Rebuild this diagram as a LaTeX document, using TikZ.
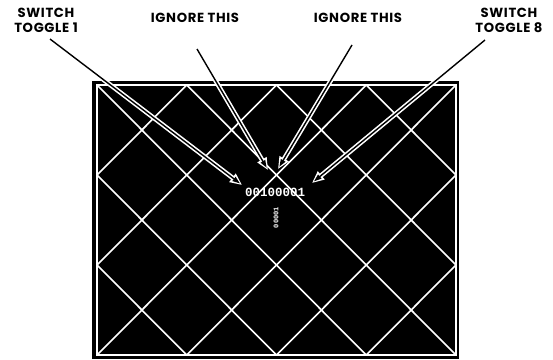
\documentclass[tikz,border=0pt]{standalone}
\usepackage{fontspec}
\setmainfont{Liberation Sans}
\newfontfamily\labfont{Poppins}[LetterSpace=5]
\newfontfamily\digfont{Liberation Mono}
\usetikzlibrary{arrows.meta}
\tikzset{
  lab/.style={font=\labfont\bfseries\fontsize{13.2}{15}\selectfont, align=center, inner sep=0pt, text=black},
  grid line/.style={white, line width=1.6pt},
  frame line/.style={white, line width=1.5pt},
  leadw/.style={white, line width=4.6pt, -{Triangle[length=12pt,width=10pt]}},
  leadb/.style={black, line width=1.4pt, -{Triangle[length=7.5pt,width=5pt]}, shorten >=2.6pt},
  digits/.style={font=\digfont\bfseries\fontsize{12.5}{13}\selectfont, text=white, inner sep=0pt}
}
\begin{document}
\begin{tikzpicture}[x=1pt,y=-1pt]
\useasboundingbox (0,0) rectangle (553,359);
\fill[white] (0,0) rectangle (553,359);
% screen
\fill[black] (92,81) rectangle (459,359);
\begin{scope}[shift={(97,85)}, x=89.75pt, y=-90pt]
  \draw[frame line] (0,0) rectangle (4,3);
  % lines x+y = k
  \draw[grid line] (1,0) -- (0,1);
  \draw[grid line] (2,0) -- (0,2);
  \draw[grid line] (3,0) -- (0,3);
  \draw[grid line] (4,0) -- (1,3);
  \draw[grid line] (4,1) -- (2,3);
  \draw[grid line] (4,2) -- (3,3);
  % lines x-y = k
  \draw[grid line] (0,2) -- (1,3);
  \draw[grid line] (0,1) -- (2,3);
  \draw[grid line] (0,0) -- (3,3);
  \draw[grid line] (1,0) -- (4,3);
  \draw[grid line] (2,0) -- (4,2);
  \draw[grid line] (3,0) -- (4,1);
\end{scope}
% readout
\node[digits] (code) at (275,192) {00100001};
\node[digits, font=\digfont\bfseries\fontsize{7}{7}\selectfont, rotate=90] (vert) at (276,217.5) {00001};
% labels
\node[lab] (t1) at (46,20.5) {SWITCH\\TOGGLE 1};
\node[lab] (ig1) at (195,17.5) {IGNORE THIS};
\node[lab] (ig2) at (358,17.5) {IGNORE THIS};
\node[lab] (t8) at (509,20.5) {SWITCH\\TOGGLE 8};
% leader ends
\coordinate (s1) at (50,39);
\coordinate (s2) at (197,49);
\coordinate (s3) at (352,45);
\coordinate (s4) at (485,40);
\coordinate (e1) at (242,185);
\coordinate (e2) at (268,170);
\coordinate (e3) at (278,169);
\coordinate (e4) at (312,183);
\foreach \a/\b in {s1/e1,s2/e2,s3/e3,s4/e4}{
  \draw[leadw] (\a) -- (\b);
}
\foreach \a/\b in {s1/e1,s2/e2,s3/e3,s4/e4}{
  \draw[leadb] (\a) -- (\b);
}
\end{tikzpicture}
\end{document}
